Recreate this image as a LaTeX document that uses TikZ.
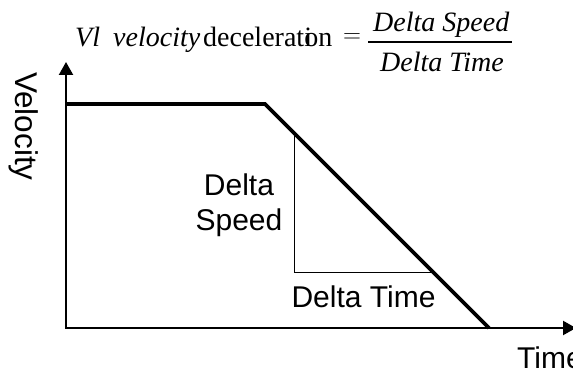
\documentclass[tikz,border=0pt]{standalone}
\usepackage{fontspec}
\setmainfont{Liberation Serif}
\newfontfamily\labelfont{Liberation Sans}
\usetikzlibrary{arrows.meta}
\begin{document}
\begin{tikzpicture}[x=1pt,y=-1pt,
  lbl/.style={font=\labelfont\fontsize{30}{36}\selectfont, inner sep=0pt},
  eqtext/.style={font=\fontsize{28}{34}\selectfont, inner sep=0pt},
  axisline/.style={line width=2.2pt, line join=miter},
  plotline/.style={line width=3.8pt, line join=miter},
  thinline/.style={line width=1pt}]
\useasboundingbox[fill=white] (0,0) rectangle (573,369);
% axes
\coordinate (O) at (66,328);
\coordinate (ytip) at (66,62);
\coordinate (xtip) at (576,328);
\draw[axisline, {Triangle[width=14pt,length=13pt]}-{Triangle[width=14pt,length=13pt]}] (ytip) -- (O) -- (xtip);
% velocity profile
\coordinate (p0) at (66,104);
\coordinate (p1) at (265,104);
\coordinate (p2) at (489,328);
\draw[plotline] (p0) -- (p1) -- (p2);
% slope triangle
\coordinate (t1) at (294,133);
\coordinate (t2) at (294,272);
\coordinate (t3) at (432,272);
\draw[thinline] (t1) -- (t2) -- (t3);
% labels
\node[lbl, anchor=base] (ds1) at (239,195) {Delta};
\node[lbl, anchor=base] (ds2) at (239,230) {Speed};
\node[lbl, anchor=base] (dt) at (363.5,307) {Delta Time};
\node[lbl, anchor=base west] (time) at (517,368.5) {Time};
\node[lbl, font=\labelfont\fontsize{31.5}{36}\selectfont, anchor=base west, rotate=-90] (vel) at (15,72) {Velocity};
% formula
\node[eqtext, anchor=base west] (f1) at (75,47) {\itshape Vl};
\node[eqtext, anchor=base west] (f2) at (113,47) {\itshape velocity};
\node[eqtext, anchor=base west] (f3) at (203,47) {decelerat\rlap{i}on};
\node[eqtext] (f4) at (352,38) {$=$};
\node[eqtext, anchor=base west] (num) at (373,32) {\itshape Delta Speed};
\node[eqtext, anchor=base west] (den) at (380,72) {\itshape Delta Time};
\coordinate (fb1) at (368,42);
\coordinate (fb2) at (512,42);
\draw[line width=1.3pt] (fb1) -- (fb2);
\end{tikzpicture}
\end{document}
